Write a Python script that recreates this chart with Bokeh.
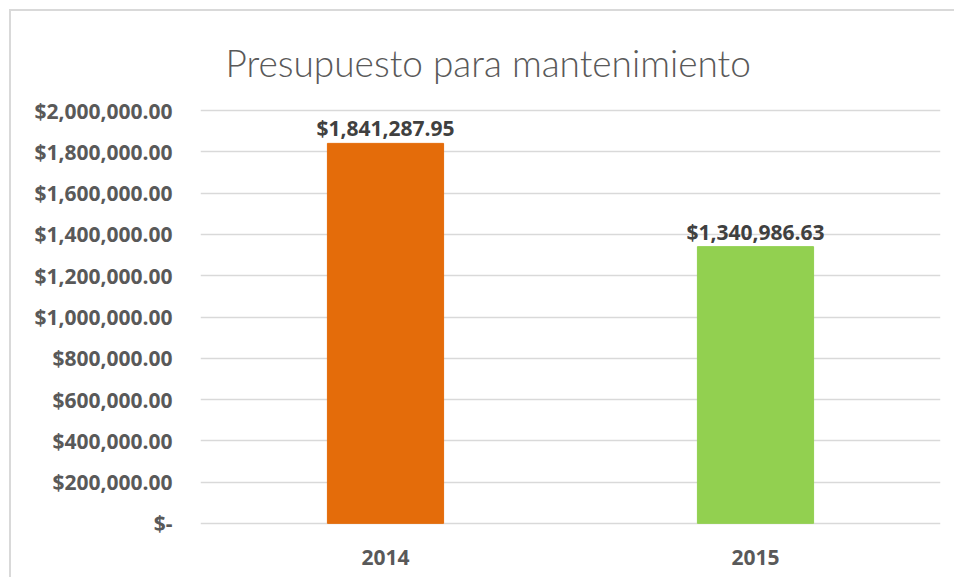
from bokeh.plotting import figure
from bokeh.models import ColumnDataSource, FixedTicker, CustomJSTickFormatter, Range1d
from bokeh.core.properties import value
from bokeh.embed import file_html
from bokeh.resources import INLINE

title_text = "Presupuesto para mantenimiento"
years = ["2014", "2015"]
amounts = [1841287.95, 1340986.63]
bar_colors = ["#E46C0A", "#92D050"]
y_ticks = [0, 200000, 400000, 600000, 800000, 1000000, 1200000, 1400000, 1600000, 1800000, 2000000]

labels = ["${:,.2f}".format(v) for v in amounts]
src = ColumnDataSource(dict(year=years, amount=amounts, color=bar_colors, label=labels))

p = figure(x_range=years, y_range=Range1d(-20000, 2020000),
           width=945, height=568, output_backend="svg", toolbar_location=None,
           min_border_left=189, min_border_right=16, min_border_top=95, min_border_bottom=52)

p.title.text = title_text
p.title.text_font = "Lato Light, Lato"
p.title.text_font_size = "37px"
p.title.text_font_style = "normal"
p.title.text_color = "#595959"
p.title.align = "left"
p.title.vertical_align = "top"
p.title.offset = 25
p.title.standoff = 40

p.vbar(x="year", top="amount", width=0.314, color="color", source=src)
p.text(x="year", y="amount", text="label", source=src, y_offset=-1,
       text_align="center", text_baseline="bottom",
       text_font=value("Open Sans"), text_font_style="bold",
       text_font_size="21px", text_color="#404040")

p.yaxis.ticker = FixedTicker(ticks=y_ticks)
p.yaxis.formatter = CustomJSTickFormatter(code="""
if (tick == 0) { return "$-"; }
return "$" + tick.toLocaleString("en-US", {minimumFractionDigits: 2, maximumFractionDigits: 2});
""")
for ax in (p.xaxis, p.yaxis):
    ax.axis_line_color = None
    ax.major_tick_line_color = None
    ax.minor_tick_line_color = None
    ax.major_tick_out = 0
    ax.major_label_text_font = "Open Sans"
    ax.major_label_text_font_style = "bold"
    ax.major_label_text_font_size = "21px"
    ax.major_label_text_color = "#595959"
p.yaxis.major_label_standoff = 28
p.xaxis.major_label_standoff = 22

p.xgrid.grid_line_color = None
p.ygrid.ticker = FixedTicker(ticks=y_ticks)
p.ygrid.grid_line_color = "#d9d9d9"
p.ygrid.grid_line_width = 1.5
p.outline_line_color = None
p.background_fill_color = "white"
p.border_fill_color = "white"
p.styles = {"margin-left": "9px", "margin-top": "9px",
            "border-top": "2px solid #d9d9d9", "border-left": "2px solid #d9d9d9"}

open("out.html", "w").write(file_html(p, INLINE))
